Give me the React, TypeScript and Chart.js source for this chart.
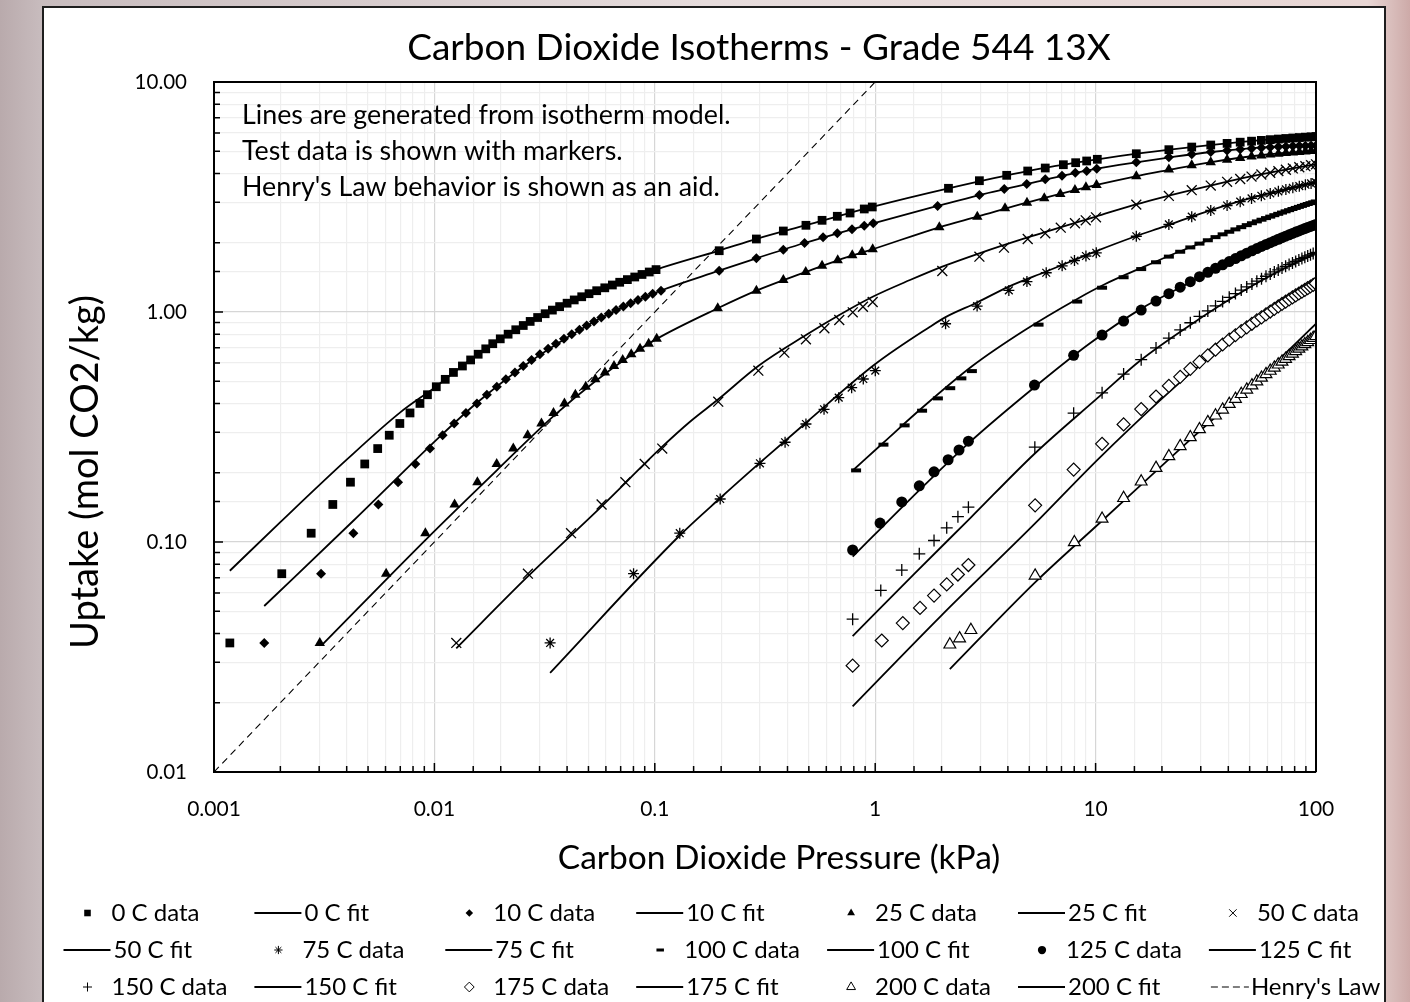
import React, { useEffect, useRef } from 'react';
import { Chart, registerables } from 'chart.js';
import { drawPoint } from 'chart.js/helpers';

Chart.register(...registerables);

const FONT = 'Lato, "Noto Sans", sans-serif';

// ---------- text ----------
const chartTitle = 'Carbon Dioxide Isotherms - Grade 544 13X';
const xTitle = 'Carbon Dioxide Pressure (kPa)';
const yTitle = 'Uptake (mol CO2/kg)';
const noteLines = [
  'Lines are generated from isotherm model.',
  'Test data is shown with markers.',
  "Henry's Law behavior is shown as an aid.",
];
const xTickLabels = ['0.001', '0.01', '0.1', '1', '10', '100'];
const yTickLabels = ['0.01', '0.10', '1.00', '10.00'];
const seriesNames = ['0 C', '10 C', '25 C', '50 C', '75 C', '100 C', '125 C', '150 C', '175 C', '200 C'];
const henryName = "Henry's Law";

// ---------- data (pressure kPa, uptake mol/kg) ----------
const lowUptake = [
  0.0364, 0.0728, 0.1092, 0.1456, 0.182, 0.2184, 0.2548, 0.2912, 0.3276, 0.364,
  0.4004, 0.4368, 0.4732, 0.5096, 0.546, 0.5824, 0.6188, 0.6552, 0.6916, 0.728,
  0.7644, 0.8008, 0.8372, 0.8736, 0.91, 0.9464, 0.9828, 1.0192, 1.0556, 1.092,
  1.1284, 1.1648, 1.2012, 1.2376, 1.274, 1.3104, 1.3468, 1.3832, 1.4196, 1.456,
  1.4924, 1.5288,
];
const pHigh = [15.3, 21.5, 27.3, 33.3, 39.5, 45.3, 51, 56.5, 62, 67.5, 73, 78.5, 84, 89.5, 95, 100];
const pDense = [
  10.7, 13.4, 16.1, 18.8, 21.5, 24.2, 26.9, 29.6, 32.3, 35, 37.7, 40.4, 43.1, 45.8, 48.5, 51.2, 53.9,
  56.6, 59.3, 62, 64.7, 67.4, 70.1, 72.8, 75.5, 78.2, 80.9, 83.6, 86.3, 89, 91.7, 94.4, 97.1, 99.8,
];

const p0 = [
  0.00118, 0.00203, 0.00276, 0.00346, 0.00416, 0.00483, 0.00553, 0.00624, 0.00697, 0.00775,
  0.0086, 0.0093, 0.0102, 0.0112, 0.0122, 0.0134, 0.0146, 0.0158, 0.0171, 0.0184,
  0.0199, 0.0216, 0.0234, 0.0253, 0.0272, 0.0294, 0.0318, 0.0343, 0.037, 0.04,
  0.0431, 0.0466, 0.0503, 0.0545, 0.0593, 0.0642, 0.0693, 0.0751, 0.0811, 0.0875,
  0.0944, 0.1013,
  0.196, 0.289, 0.383, 0.485, 0.574, 0.673, 0.769, 0.892, 0.97,
  2.15, 2.97, 3.95, 4.92, 5.91, 7.14, 8.12, 9.11, 10.18,
];
const q0 = [
  ...lowUptake.slice(0, 42),
  1.847, 2.077, 2.25, 2.382, 2.504, 2.607, 2.694, 2.805, 2.862,
  3.45, 3.723, 3.929, 4.102, 4.227, 4.369, 4.458, 4.535, 4.612,
  4.876, 5.079, 5.214, 5.321, 5.408, 5.474, 5.53, 5.575, 5.615, 5.649, 5.681, 5.709, 5.734, 5.756, 5.777, 5.794,
];
const p10 = [
  0.00169, 0.00306, 0.00429, 0.00557, 0.00684, 0.00819, 0.00955, 0.0109, 0.0123, 0.0139,
  0.0156, 0.0173, 0.0192, 0.0211, 0.0232, 0.0253, 0.0276, 0.0301, 0.0328, 0.0356,
  0.0387, 0.042, 0.0455, 0.0491, 0.053, 0.0572, 0.0618, 0.0667, 0.072, 0.0777,
  0.0839, 0.0906, 0.0978, 0.1067,
  0.196, 0.289, 0.383, 0.478, 0.58, 0.673, 0.785, 0.892, 0.98,
  1.92, 2.97, 3.85, 4.87, 5.91, 7.04, 8.09, 9.11, 10.12,
];
const q10 = [
  ...lowUptake.slice(0, 34),
  1.512, 1.712, 1.866, 1.995, 2.112, 2.199, 2.289, 2.373, 2.431,
  2.891, 3.226, 3.425, 3.602, 3.776, 3.914, 4.034, 4.102, 4.198,
  4.479, 4.709, 4.852, 4.958, 5.04, 5.098, 5.143, 5.177, 5.206, 5.229, 5.248, 5.264, 5.276, 5.286, 5.295, 5.301,
];
const p25 = [
  0.00302, 0.00604, 0.0091, 0.01235, 0.01567, 0.01917, 0.0228, 0.0265, 0.0306, 0.0347,
  0.0389, 0.0436, 0.0486, 0.0537, 0.0594, 0.0653, 0.0715, 0.0782, 0.0857, 0.0938, 0.102,
  0.193, 0.289, 0.383, 0.484, 0.574, 0.676, 0.787, 0.871, 0.974,
  1.954, 2.906, 3.882, 4.883, 5.85, 6.917, 8.06, 9.04, 10.1,
];
const q25 = [
  ...lowUptake.slice(0, 21),
  1.038, 1.238, 1.378, 1.493, 1.59, 1.678, 1.764, 1.824, 1.874,
  2.335, 2.596, 2.824, 2.987, 3.121, 3.258, 3.392, 3.485, 3.566,
  3.895, 4.169, 4.346, 4.483, 4.593, 4.675, 4.74, 4.794, 4.839, 4.878, 4.911, 4.94, 4.966, 4.988, 5.007, 5.022,
];
const p50 = [
  0.01257, 0.02656, 0.04168, 0.05736, 0.07355, 0.09, 0.1081,
  0.194, 0.295, 0.387, 0.485, 0.588, 0.687, 0.791, 0.88, 0.974,
  2.016, 2.97, 3.84, 4.92, 5.91, 6.95, 8.06, 9.02, 10.04,
];
const q50 = [
  ...lowUptake.slice(0, 7),
  0.4074, 0.5558, 0.6653, 0.7608, 0.8496, 0.9232, 0.997, 1.054, 1.105,
  1.508, 1.74, 1.904, 2.077, 2.199, 2.326, 2.431, 2.504, 2.58,
  2.93, 3.197, 3.387, 3.545, 3.681, 3.788, 3.88, 3.96, 4.032, 4.097, 4.155, 4.21, 4.26, 4.305, 4.349, 4.387,
];
const p75 = [
  0.0335, 0.0801, 0.1298,
  0.198, 0.3, 0.39, 0.485, 0.586, 0.683, 0.782, 0.883, 1.001,
  2.086, 2.9, 4.04, 4.88, 5.97, 7.05, 8.02, 9.04, 10.07,
];
const q75 = [
  ...lowUptake.slice(0, 3),
  0.1538, 0.2199, 0.2714, 0.3258, 0.3776, 0.4241, 0.4688, 0.5112, 0.5558,
  0.889, 1.061, 1.241, 1.356, 1.481, 1.588, 1.675, 1.752, 1.809,
  2.135, 2.404, 2.598, 2.762, 2.904, 3.018, 3.116, 3.201, 3.277, 3.346, 3.41, 3.469, 3.524, 3.574, 3.621, 3.66,
];
const p100 = [0.819, 1.09, 1.36, 1.632, 1.925, 2.19, 2.46, 2.746, 5.51, 8.25];
const q100 = [
  0.2048, 0.265, 0.3214, 0.3723, 0.4211, 0.4664, 0.5145, 0.5534, 0.881, 1.11,
  1.275, 1.416, 1.537, 1.645, 1.741, 1.828, 1.909, 1.983, 2.051, 2.116, 2.176, 2.233, 2.287, 2.338, 2.386, 2.432, 2.477,
  2.519, 2.56, 2.598, 2.636, 2.672, 2.706, 2.74, 2.772, 2.804, 2.834, 2.864, 2.892, 2.921, 2.948, 2.974, 2.999, 3.024,
];
const p125 = [0.79, 1.052, 1.32, 1.585, 1.849, 2.142, 2.4, 2.648, 5.28, 7.95];
const q125 = [
  0.0923, 0.1209, 0.1493, 0.1755, 0.202, 0.2278, 0.2512, 0.2744, 0.4811, 0.6482,
  0.7936, 0.9135, 1.0195, 1.1154, 1.2018, 1.2816, 1.3552, 1.4236, 1.4876, 1.5478, 1.604, 1.6573, 1.7081, 1.7563, 1.8017,
  1.8454, 1.887, 1.927, 1.9655, 2.002, 2.0374, 2.0714, 2.1041, 2.1359, 2.1667, 2.1963, 2.2248, 2.2526, 2.2797, 2.3056,
  2.3312, 2.3554, 2.3794, 2.4025,
];
const p150 = [0.79, 1.06, 1.32, 1.585, 1.849, 2.111, 2.373, 2.648, 5.3, 7.95];
const q150 = [
  0.0462, 0.0616, 0.0755, 0.0888, 0.1015, 0.1152, 0.1288, 0.1417, 0.2584, 0.3631,
  0.4453, 0.537, 0.6207, 0.6978, 0.7694, 0.8358, 0.8981, 0.9563, 1.0113, 1.0632, 1.1121, 1.1588, 1.2031, 1.2454, 1.2856,
  1.3241, 1.3612, 1.396, 1.4301, 1.4625, 1.4938, 1.5237, 1.5527, 1.5805, 1.6073, 1.6334, 1.6588, 1.6831, 1.7066, 1.7295,
  1.7515, 1.7731, 1.794, 1.8139,
];
const p175 = [0.79, 1.071, 1.334, 1.597, 1.849, 2.111, 2.373, 2.648, 5.316, 7.95];
const q175 = [
  0.029, 0.0373, 0.0444, 0.0517, 0.0585, 0.0654, 0.0722, 0.0794, 0.1443, 0.2064,
  0.2671, 0.3245, 0.3784, 0.4291, 0.477, 0.5225, 0.5659, 0.6074, 0.6473, 0.6856, 0.7224, 0.7581, 0.7923, 0.8254, 0.8574,
  0.8887, 0.9189, 0.9476, 0.9768, 1.0046, 1.0316, 1.058, 1.0837, 1.1087, 1.1332, 1.1572, 1.1806, 1.2034, 1.226, 1.248,
  1.2694, 1.2907, 1.3111, 1.3317,
];
const p200 = [2.181, 2.415, 2.718, 5.316, 8.01];
const q200 = [
  0.0358, 0.0381, 0.0414, 0.0714, 0.0997,
  0.1262, 0.1552, 0.1831, 0.2099, 0.2359, 0.261, 0.2853, 0.309, 0.332, 0.3545, 0.3763, 0.3979, 0.4189, 0.4395, 0.4596,
  0.4794, 0.4988, 0.5178, 0.5366, 0.5549, 0.5728, 0.5906, 0.6081, 0.6253, 0.6422, 0.659, 0.6756, 0.692, 0.708, 0.7238,
  0.7396, 0.7549, 0.7702, 0.7852,
];

// ---------- model fit lines ----------
const fit0P = [0.00118, 0.002, 0.004, 0.007, 0.0102, 0.0145, 0.02, 0.0294, 0.05, 0.0751, 0.1013, 0.196, 0.29, 0.485, 0.97, 2.15, 4.92, 10.2, 15.4, 33, 60, 100];
const fit0Q = [0.075, 0.122, 0.228, 0.366, 0.475, 0.619, 0.765, 0.946, 1.2, 1.383, 1.529, 1.85, 2.08, 2.385, 2.865, 3.45, 4.1, 4.61, 4.88, 5.32, 5.62, 5.83];
const fit10P = [0.00169, 0.0043, 0.0107, 0.0156, 0.0253, 0.049, 0.0778, 0.1067, 0.196, 0.289, 0.478, 0.98, 1.92, 2.97, 4.87, 10.12, 15.25, 21.8, 33.6, 60, 100];
const fit10Q = [0.0527, 0.124, 0.29, 0.403, 0.58, 0.87, 1.09, 1.24, 1.512, 1.712, 1.995, 2.431, 2.891, 3.226, 3.602, 4.198, 4.477, 4.706, 4.962, 5.21, 5.3];
const fit25P = [0.0031, 0.0091, 0.0192, 0.035, 0.0537, 0.0782, 0.102, 0.193, 0.289, 0.484, 0.676, 0.974, 1.954, 2.906, 4.883, 10.1, 15.2, 21, 33, 60, 100];
const fit25Q = [0.0358, 0.102, 0.205, 0.355, 0.5, 0.65, 0.764, 1.038, 1.238, 1.493, 1.678, 1.874, 2.335, 2.596, 2.987, 3.566, 3.89, 4.131, 4.477, 4.84, 5.022];
const fit50P = [0.01257, 0.0266, 0.0574, 0.1081, 0.1444, 0.1941, 0.2948, 0.4853, 0.6873, 0.974, 1.438, 2.016, 2.97, 4.92, 10.04, 15.09, 20.5, 31.7, 50, 75, 100];
const fit50Q = [0.0345, 0.071, 0.143, 0.2596, 0.3334, 0.4173, 0.5824, 0.7943, 0.9705, 1.165, 1.377, 1.575, 1.8, 2.11, 2.6, 2.93, 3.17, 3.51, 3.88, 4.18, 4.39];
const fit75P = [0.0335, 0.13, 0.1976, 0.3001, 0.4853, 1.001, 1.773, 2.086, 2.9, 4.04, 5.97, 10.07, 15.1, 20.4, 31.4, 50, 75, 100];
const fit75Q = [0.027, 0.107, 0.1549, 0.2213, 0.3301, 0.594, 0.863, 0.95, 1.1, 1.29, 1.5, 1.84, 2.13, 2.35, 2.72, 3.12, 3.43, 3.68];
const fit100P = [0.7955, 1.0885, 1.643, 2.758, 4.783, 8.25, 11, 16.5, 22, 30.3, 50, 75, 100];
const fit100Q = [0.2056, 0.2702, 0.3852, 0.5824, 0.8352, 1.14, 1.32, 1.57, 1.77, 2.0, 2.43, 2.76, 3.03];
const fit125P = [0.7905, 1.45, 2.648, 5.31, 9.43, 15.83, 26.7, 50, 75, 100];
const fit125Q = [0.0863, 0.1545, 0.2686, 0.4734, 0.7311, 1.024, 1.342, 1.83, 2.17, 2.44];
const fit150P = [0.79, 1.5, 2.7, 5.3, 10.5, 15.8, 26.5, 50, 75, 100];
const fit150Q = [0.039, 0.0725, 0.127, 0.2426, 0.4329, 0.611, 0.87, 1.28, 1.58, 1.81];
const fit175P = [0.79, 2, 5.3, 10.5, 26.5, 50, 75, 100];
const fit175Q = [0.0193, 0.048, 0.1201, 0.234, 0.534, 0.87, 1.12, 1.31];
const fit200P = [2.181, 5.3, 10.55, 26.5, 50, 75, 100];
const fit200Q = [0.028, 0.0666, 0.1222, 0.275, 0.475, 0.68, 0.889];
const henryP = [0.001, 1];
const henryQ = [0.01, 10];

// ---------- assemble ----------
const dataP = [p0, p10, p25, p50, p75, [...p100, ...pDense], [...p125, ...pDense], [...p150, ...pDense], [...p175, ...pDense], [...p200, ...pDense]];
const dataPFull = dataP.map((p, i) => (i < 5 ? [...p, ...pHigh] : p));
const dataQ = [q0, q10, q25, q50, q75, q100, q125, q150, q175, q200];
const fitP = [fit0P, fit10P, fit25P, fit50P, fit75P, fit100P, fit125P, fit150P, fit175P, fit200P];
const fitQ = [fit0Q, fit10Q, fit25Q, fit50Q, fit75Q, fit100Q, fit125Q, fit150Q, fit175Q, fit200Q];

type MS = { style: string; r: number; fill: boolean; bw: number };
const markerStyles: MS[] = [
  { style: 'rect', r: 6.2, fill: true, bw: 0 },
  { style: 'rectRot', r: 5, fill: true, bw: 0 },
  { style: 'triangle', r: 6, fill: true, bw: 0 },
  { style: 'crossRot', r: 7, fill: false, bw: 1.3 },
  { style: 'star', r: 5.5, fill: false, bw: 1.3 },
  { style: 'line', r: 5, fill: false, bw: 4 },
  { style: 'circle', r: 5.5, fill: true, bw: 0 },
  { style: 'cross', r: 6, fill: false, bw: 1.3 },
  { style: 'rectRot', r: 6.5, fill: false, bw: 1.2 },
  { style: 'triangle', r: 6.8, fill: false, bw: 1.2 },
];

const xy = (p: number[], q: number[]) => p.slice(0, Math.min(p.length, q.length)).map((x, i) => ({ x, y: q[i] }));

const decadeIndex = (v: number) => {
  const l = Math.log10(v);
  const r = Math.round(l);
  return Math.abs(l - r) < 1e-6 ? r : null;
};

const decorPlugin = {
  id: 'decor',
  afterDraw(chart: any) {
    const { ctx, chartArea: ca, scales } = chart;
    ctx.save();
    // frame on top and right
    ctx.strokeStyle = '#000';
    ctx.lineWidth = 2;
    ctx.beginPath();
    ctx.moveTo(ca.left, ca.top);
    ctx.lineTo(ca.right, ca.top);
    ctx.lineTo(ca.right, ca.bottom);
    ctx.stroke();
    // inside tick marks
    ctx.lineWidth = 1.5;
    ctx.beginPath();
    for (const t of scales.x.ticks) {
      const px = scales.x.getPixelForValue(t.value);
      const len = decadeIndex(t.value) !== null ? 9 : 6;
      ctx.moveTo(px, ca.bottom);
      ctx.lineTo(px, ca.bottom - len);
    }
    for (const t of scales.y.ticks) {
      const py = scales.y.getPixelForValue(t.value);
      const len = decadeIndex(t.value) !== null ? 9 : 6;
      ctx.moveTo(ca.left, py);
      ctx.lineTo(ca.left + len, py);
    }
    ctx.stroke();

    ctx.fillStyle = '#000';
    // title
    ctx.font = `37px ${FONT}`;
    ctx.textAlign = 'center';
    ctx.textBaseline = 'middle';
    ctx.fillText(chartTitle, 759, 48);
    // notes
    ctx.font = `26.8px ${FONT}`;
    ctx.textAlign = 'left';
    noteLines.forEach((s, i) => ctx.fillText(s, 242, 115 + i * 36));
    // axis titles
    ctx.font = `33.5px ${FONT}`;
    ctx.textAlign = 'center';
    ctx.fillText(xTitle, 779, 858);
    ctx.save();
    ctx.translate(86, 472);
    ctx.rotate(-Math.PI / 2);
    ctx.font = `38px ${FONT}`;
    ctx.fillText(yTitle, 0, 0);
    ctx.restore();

    // legend
    const items: any[] = [];
    seriesNames.forEach((n, i) => {
      items.push({ text: `${n} data`, kind: 'marker', ms: markerStyles[i] });
      items.push({ text: `${n} fit`, kind: 'line' });
    });
    items.push({ text: henryName, kind: 'dash' });
    ctx.font = `24px ${FONT}`;
    ctx.textAlign = 'left';
    ctx.textBaseline = 'middle';
    items.forEach((it, idx) => {
      const col = idx % 7;
      const row = Math.floor(idx / 7);
      const cx = 63.5 + 190.9 * col;
      const cy = 913 + 37 * row;
      ctx.strokeStyle = '#000';
      ctx.fillStyle = '#000';
      let tx = cx + 50;
      if (it.kind === 'marker') {
        const ms = it.ms as MS;
        ctx.fillStyle = ms.fill ? '#000' : '#fff';
        ctx.lineWidth = ms.bw > 2 ? 3 : 1;
        drawPoint(ctx, { pointStyle: ms.style as any, radius: ms.r * 0.75, rotation: 0, borderWidth: ms.fill ? 0 : ms.bw }, cx + 24, cy);
        tx = cx + 48;
      } else if (it.kind === 'line') {
        ctx.lineWidth = 1.8;
        ctx.beginPath();
        ctx.moveTo(cx, cy);
        ctx.lineTo(cx + 47, cy);
        ctx.stroke();
      } else {
        ctx.lineWidth = 1.2;
        ctx.setLineDash([7, 4]);
        ctx.beginPath();
        ctx.moveTo(cx + 2, cy);
        ctx.lineTo(cx + 40, cy);
        ctx.stroke();
        ctx.setLineDash([]);
        tx = cx + 42;
      }
      ctx.fillStyle = '#000';
      ctx.fillText(it.text, tx, cy);
    });
    ctx.restore();
  },
};

export default function App() {
  const ref = useRef<HTMLCanvasElement>(null);
  useEffect(() => {
    const canvas = ref.current;
    if (!canvas) return;
    const datasets: any[] = [];
    seriesNames.forEach((n, i) => {
      const ms = markerStyles[i];
      datasets.push({
        label: `${n} data`,
        data: xy(dataPFull[i], dataQ[i]),
        showLine: false,
        pointStyle: ms.style,
        pointRadius: ms.r,
        pointBackgroundColor: ms.fill ? '#000' : '#fff',
        pointBorderColor: '#000',
        pointBorderWidth: ms.bw,
        order: 0,
      });
    });
    seriesNames.forEach((n, i) => {
      datasets.push({
        label: `${n} fit`,
        data: xy(fitP[i], fitQ[i]),
        showLine: true,
        borderColor: '#000',
        borderWidth: 1.8,
        pointRadius: 0,
        cubicInterpolationMode: 'monotone',
        order: 1,
      });
    });
    datasets.push({
      label: henryName,
      data: xy(henryP, henryQ),
      showLine: true,
      borderColor: '#000',
      borderWidth: 1.1,
      borderDash: [7, 5],
      pointRadius: 0,
      order: 2,
    });

    const gridColor = (c: any) => (c.tick && decadeIndex(c.tick.value) !== null ? '#d6d6d6' : '#eeeeee');
    const chart = new Chart(canvas, {
      type: 'line',
      data: { datasets },
      options: {
        responsive: false,
        animation: false,
        devicePixelRatio: 1,
        events: [],
        layout: { padding: { left: 100, right: 94, top: 82, bottom: 150 } },
        plugins: { legend: { display: false }, tooltip: { enabled: false }, title: { display: false } },
        scales: {
          x: {
            type: 'logarithmic',
            min: 0.001,
            max: 100,
            border: { display: true, color: '#000', width: 2 },
            grid: { color: gridColor, lineWidth: 1.2, drawTicks: false },
            ticks: {
              autoSkip: false,
              maxRotation: 0,
              padding: 25,
              color: '#000',
              font: { family: FONT, size: 21 },
              callback: (v: any) => {
                const d = decadeIndex(Number(v));
                return d === null ? '' : xTickLabels[d + 3];
              },
            },
            afterFit: (s: any) => {
              s.height = 80;
            },
          },
          y: {
            type: 'logarithmic',
            min: 0.01,
            max: 10,
            border: { display: true, color: '#000', width: 2 },
            grid: { color: gridColor, lineWidth: 1.2, drawTicks: false },
            ticks: {
              autoSkip: false,
              padding: 27,
              color: '#000',
              font: { family: FONT, size: 20.5 },
              callback: (v: any) => {
                const d = decadeIndex(Number(v));
                return d === null ? '' : yTickLabels[d + 2];
              },
            },
            afterFit: (s: any) => {
              s.width = 114;
            },
          },
        },
      },
      plugins: [decorPlugin],
    } as any);
    return () => chart.destroy();
  }, []);

  return (
    <div
      style={{
        position: 'fixed',
        left: 0,
        top: 0,
        width: 1410,
        height: 1002,
        overflow: 'hidden',
        background:
          'linear-gradient(90deg, rgba(185,170,172,1) 0%, rgba(200,188,190,1) 3%, rgba(230,220,220,1) 50%, rgba(232,214,212,1) 97%, rgba(205,170,168,1) 100%)',
      }}
    >
      <div
        style={{
          position: 'absolute',
          left: 42,
          top: 6,
          width: 1340,
          height: 1010,
          background: '#fff',
          border: '2px solid #1e1e1e',
        }}
      />
      <canvas ref={ref} width={1410} height={1002} style={{ position: 'absolute', left: 0, top: 0 }} />
    </div>
  );
}
